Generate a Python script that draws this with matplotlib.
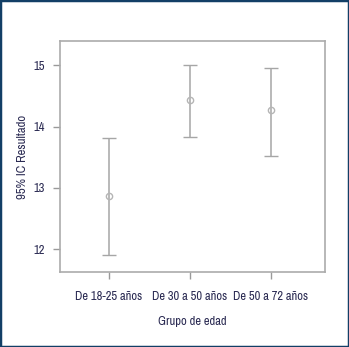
import matplotlib
matplotlib.use("Agg")
import matplotlib.pyplot as plt
from matplotlib.patches import Rectangle

# Age groups and 95% confidence intervals of the result
groups = ["De 18-25 años", "De 30 a 50 años", "De 50 a 72 años"]
means = [12.86, 14.43, 14.27]
lower = [11.91, 13.83, 13.52]
upper = [13.82, 15.00, 14.96]
yticks = [12, 13, 14, 15]

plt.rcParams['font.family'] = ['Archivo Narrow', 'DejaVu Sans']
plt.rcParams['font.stretch'] = 'condensed'
text_color = "#2a2a52"
gray = "#a6a6a6"

fig = plt.figure(figsize=(3.49, 3.47), dpi=100)
W, H = 349, 347
ax = fig.add_axes([60 / W, 1 - 272 / H, (325 - 60) / W, (272 - 41) / H])

x = list(range(len(groups)))
yerr = [[m - l for m, l in zip(means, lower)], [u - m for m, u in zip(means, upper)]]
ax.errorbar(x, means, yerr=yerr, fmt='o', color=gray, ecolor=gray,
            elinewidth=1.1, capsize=5, capthick=1.1,
            markersize=4.5, markerfacecolor='none', markeredgecolor="#b5b5b5",
            markeredgewidth=1.0)

ax.set_xlim(-0.605, 2.667)
ax.set_ylim(11.625, 15.4)
ax.set_xticks(x)
ax.set_xticklabels(groups)
ax.set_yticks(yticks)
ax.set_yticklabels([str(t) for t in yticks])

for s in ax.spines.values():
    s.set_color("#ababab")
    s.set_linewidth(1.2)
ax.tick_params(axis='both', colors="#9a9a9a", length=5, width=1.0, labelsize=9,
               labelcolor=text_color, pad=6)
ax.tick_params(axis='x', pad=9)

ax.set_xlabel("Grupo de edad", fontsize=9, color=text_color, labelpad=10)
ax.set_ylabel("95% IC Resultado", fontsize=9.2, color=text_color, labelpad=4)

# dark outer frame around the figure
fig.patches.append(Rectangle((0, 0), 1, 1, transform=fig.transFigure,
                             fill=False, edgecolor="#123f66", linewidth=2.5))

fig.savefig("out.png", dpi=100)
